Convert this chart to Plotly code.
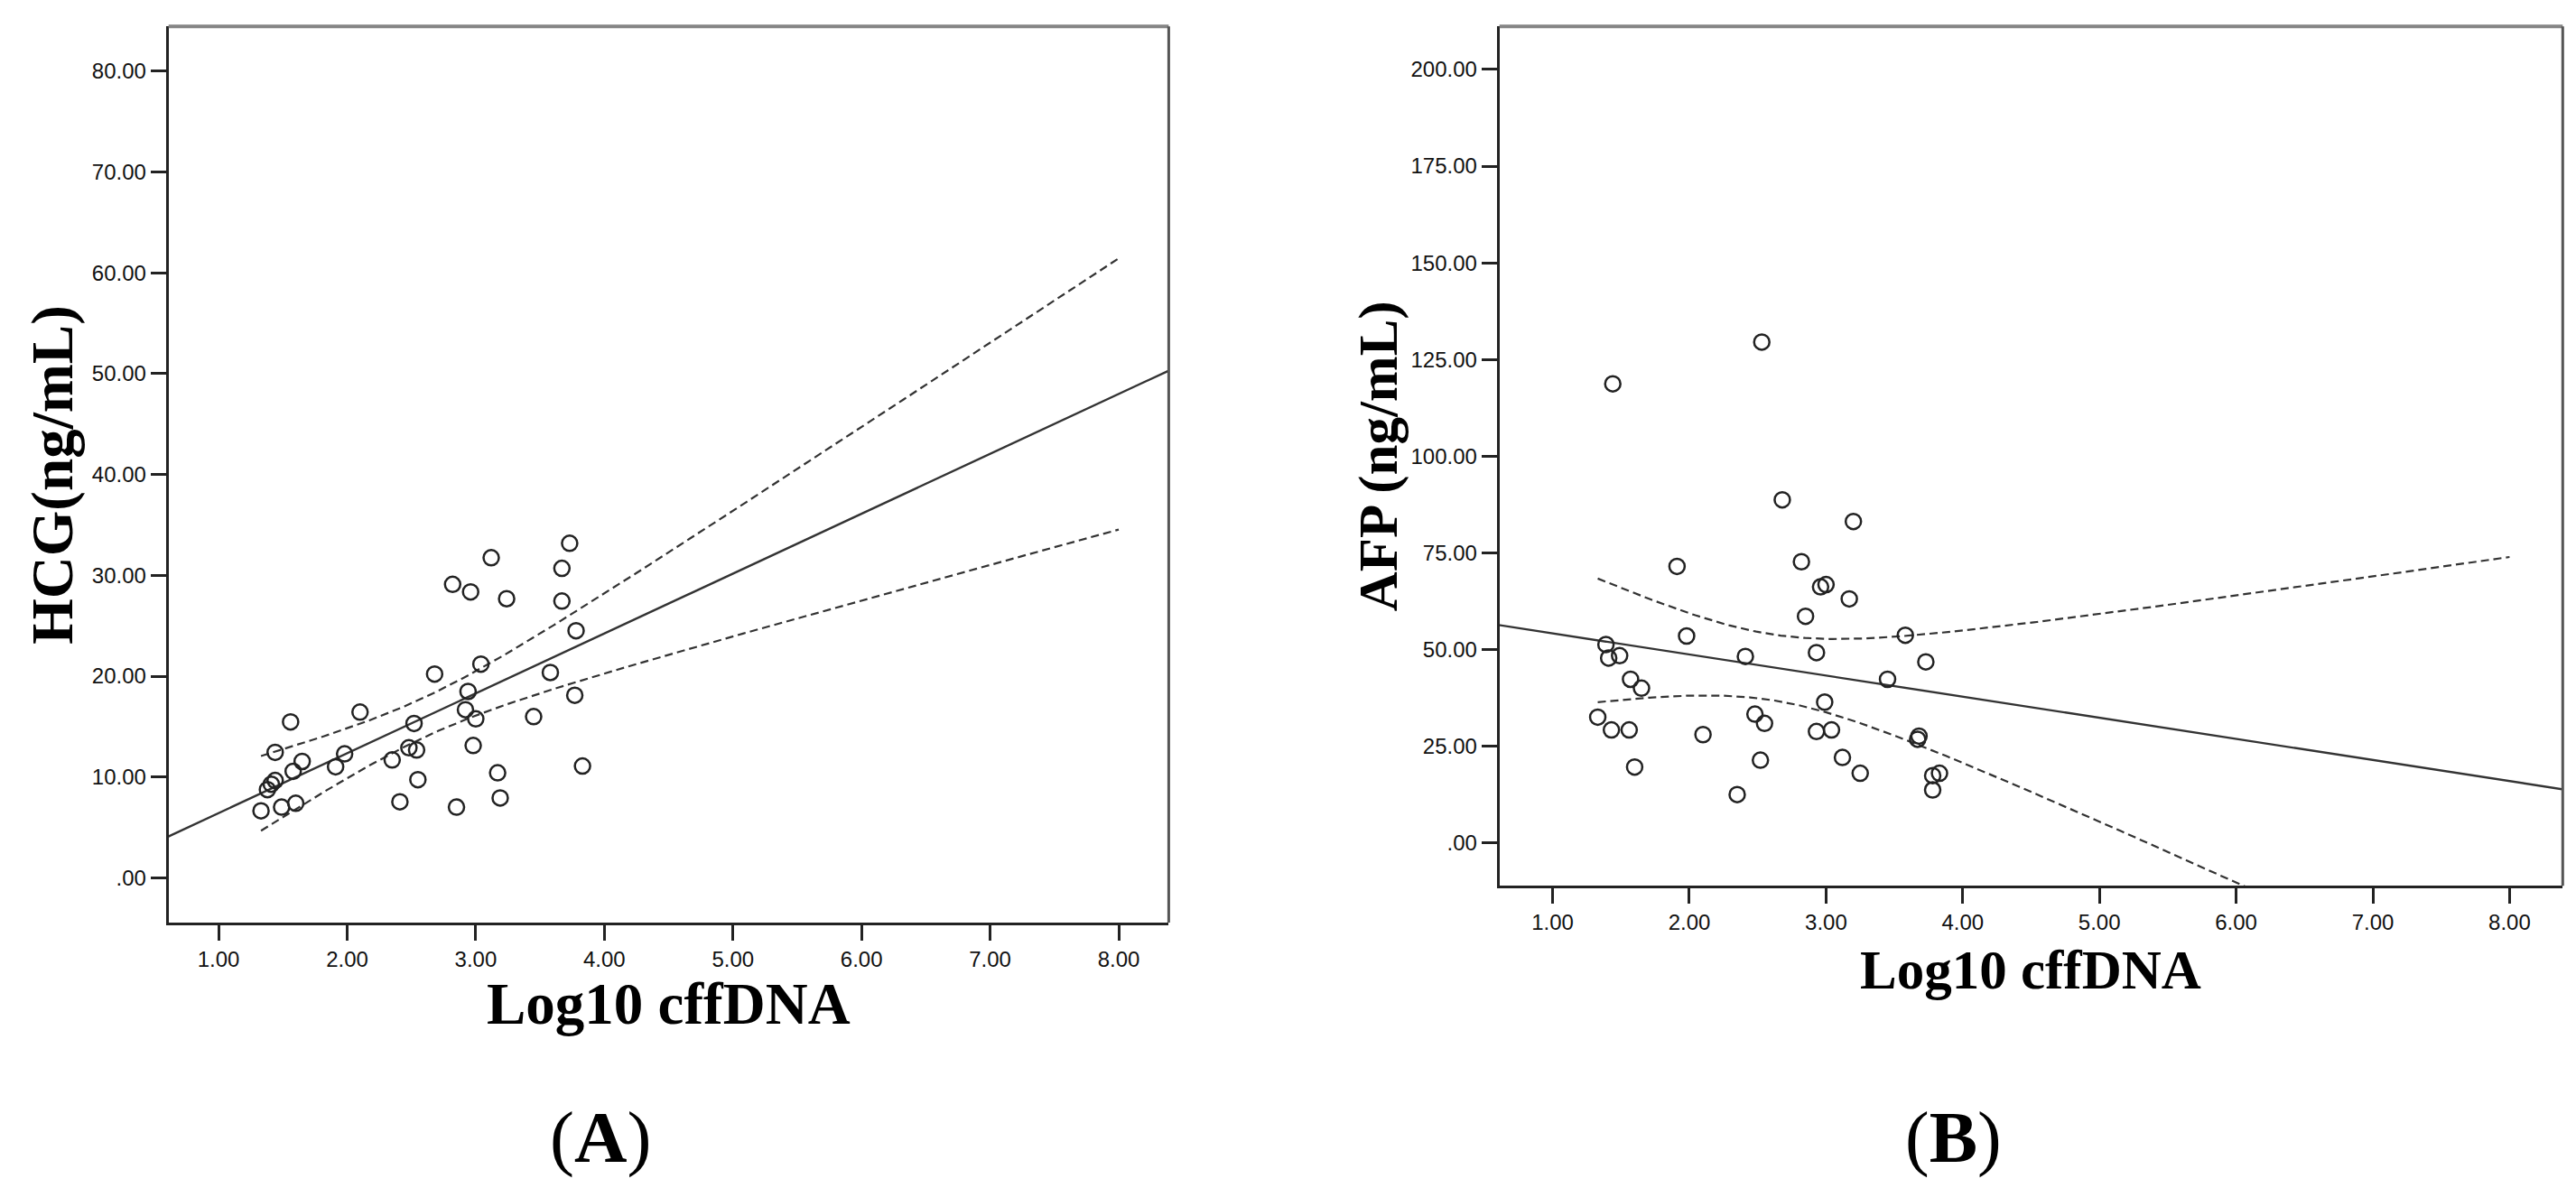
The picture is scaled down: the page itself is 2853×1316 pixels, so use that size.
import numpy as np
import plotly.graph_objects as go

# ---------------- data ----------------
log10_cffdna = [1.33, 1.38, 1.41, 1.44, 1.44, 1.49, 1.56, 1.58, 1.60, 1.65,
                1.91, 1.98, 2.10, 2.35, 2.41, 2.48, 2.52, 2.54, 2.55, 2.68,
                2.82, 2.85, 2.92, 2.94, 2.96, 2.98, 3.00, 3.04, 3.12, 3.17,
                3.19, 3.24, 3.45, 3.58, 3.67, 3.67, 3.73, 3.77, 3.78, 3.83]

hcg = [6.64, 8.75, 9.28, 9.65, 12.44, 7.01, 15.46, 10.56, 7.39, 11.54,
       11.01, 12.29, 16.44, 11.69, 7.54, 12.90, 15.31, 12.67, 9.73, 20.21,
       29.11, 7.01, 16.67, 18.48, 28.36, 13.12, 15.76, 21.19, 31.75, 10.41,
       7.92, 27.68, 15.99, 20.36, 27.45, 30.69, 33.18, 18.10, 24.51, 11.09]

afp_x = [1.33, 1.39, 1.41, 1.43, 1.44, 1.49, 1.56, 1.57, 1.60, 1.65,
         1.91, 1.98, 2.10, 2.35, 2.41, 2.48, 2.52, 2.53, 2.55, 2.68,
         2.82, 2.85, 2.93, 2.93, 2.96, 2.99, 3.00, 3.04, 3.12, 3.17,
         3.20, 3.25, 3.45, 3.58, 3.67, 3.68, 3.73, 3.78, 3.78, 3.83]

afp = [32.5, 51.3, 47.8, 29.2, 118.7, 48.4, 29.2, 42.3, 19.6, 40.0,
       71.5, 53.5, 28.0, 12.5, 48.2, 33.3, 21.4, 129.5, 30.9, 88.7,
       72.7, 58.6, 49.2, 28.8, 66.2, 36.4, 66.8, 29.2, 22.1, 63.1,
       83.1, 18.0, 42.3, 53.7, 26.8, 27.6, 46.8, 13.7, 17.4, 18.0]

x_ticks = [1, 2, 3, 4, 5, 6, 7, 8]
x_ticktext = ["1.00", "2.00", "3.00", "4.00", "5.00", "6.00", "7.00", "8.00"]
hcg_ticks = [0, 10, 20, 30, 40, 50, 60, 70, 80]
hcg_ticktext = [".00", "10.00", "20.00", "30.00", "40.00", "50.00", "60.00", "70.00", "80.00"]
afp_ticks = [0, 25, 50, 75, 100, 125, 150, 175, 200]
afp_ticktext = [".00", "25.00", "50.00", "75.00", "100.00", "125.00", "150.00", "175.00", "200.00"]

T_975_DF38 = 2.0244  # Student t quantile used for the 95% mean CI


def fit_with_ci(x, y, x_end):
    x = np.asarray(x, float)
    y = np.asarray(y, float)
    n = len(x)
    b, a = np.polyfit(x, y, 1)
    resid = y - (a + b * x)
    s = np.sqrt(np.sum(resid ** 2) / (n - 2))
    sxx = np.sum((x - x.mean()) ** 2)
    xl = np.linspace(-1, 10, 50)
    yl = a + b * xl
    xc = np.linspace(x.min(), x_end, 300)
    hw = T_975_DF38 * s * np.sqrt(1.0 / n + (xc - x.mean()) ** 2 / sxx)
    yc = a + b * xc
    return xl, yl, xc, yc - hw, yc + hw


W, H = 2853, 1316
fig = go.Figure()

panels = [
    (log10_cffdna, hcg, "x", "y"),
    (afp_x, afp, "x2", "y2"),
]
for xs, ys, xa, ya in panels:
    xl, yl, xc, lo, hi = fit_with_ci(xs, ys, max(x_ticks))
    for yy in (hi, lo):
        fig.add_trace(go.Scatter(x=xc, y=yy, mode="lines", xaxis=xa, yaxis=ya,
                                 line=dict(color="#333333", width=2.2, dash="9px,5px"),
                                 showlegend=False, hoverinfo="skip"))
    fig.add_trace(go.Scatter(x=xl, y=yl, mode="lines", xaxis=xa, yaxis=ya,
                             line=dict(color="#333333", width=2.4),
                             showlegend=False, hoverinfo="skip"))
    fig.add_trace(go.Scatter(x=xs, y=ys, mode="markers", xaxis=xa, yaxis=ya,
                             marker=dict(symbol="circle-open", size=17, color="#222222",
                                         line=dict(width=2.5, color="#222222")),
                             showlegend=False))

tickfont = dict(family="Liberation Sans, Arial, sans-serif", size=24, color="#111111")
common_axis = dict(showline=True, linewidth=3, linecolor="#222222", ticks="outside",
                   ticklen=17, tickwidth=3, tickcolor="#222222", showgrid=False,
                   zeroline=False, tickfont=tickfont, mirror=False)

xr = [0.6111, 8.3889]
fig.update_layout(
    width=W, height=H, autosize=False,
    margin=dict(l=0, r=0, t=0, b=0),
    paper_bgcolor="white", plot_bgcolor="white",
    xaxis=dict(domain=[178.7 / W, 1286.4 / W], range=xr, anchor="y",
               tickvals=x_ticks, ticktext=x_ticktext, **common_axis),
    yaxis=dict(domain=[1 - 1014.0 / H, 1 - 21.3 / H], range=[-4.444, 84.444], anchor="x",
               tickvals=hcg_ticks, ticktext=hcg_ticktext, **common_axis),
    xaxis2=dict(domain=[1652.7 / W, 2830.3 / W], range=xr, anchor="y2",
                tickvals=x_ticks, ticktext=x_ticktext, **common_axis),
    yaxis2=dict(domain=[1 - 973.3 / H, 1 - 21.3 / H], range=[-11.111, 211.111], anchor="x2",
                tickvals=afp_ticks, ticktext=afp_ticktext, **common_axis),
)

# gray top/right frame edges
for xd, yd in (("x domain", "y domain"), ("x2 domain", "y2 domain")):
    fig.add_shape(type="line", xref=xd, yref=yd, x0=0, x1=1, y0=1, y1=1,
                  line=dict(color="#858585", width=4))
    fig.add_shape(type="line", xref=xd, yref=yd, x0=1, x1=1, y0=0, y1=1,
                  line=dict(color="#555555", width=3))

serif = "Liberation Serif, Times New Roman, serif"
ann = [
    ("<b>Log10 cffDNA</b>", 732.5, 1104, 0, 65),
    ("<b>Log10 cffDNA</b>", 2241, 1066, 0, 61),
    ("<b>HCG(ng/mL)</b>", 50, 517.7, -90, 65),
    ("<b>AFP (ng/mL)</b>", 1519, 497.3, -90, 61),
    ("(<b>A</b>)", 657, 1252, 0, 81),
    ("(<b>B</b>)", 2155, 1252, 0, 80),
]
for text, px, py, ang, size in ann:
    fig.add_annotation(text=text, x=px / W, y=1 - py / H, xref="paper", yref="paper",
                       xanchor="center", yanchor="middle", textangle=ang, showarrow=False,
                       font=dict(family=serif, size=size, color="#000000"))

fig.write_html("out.html")
